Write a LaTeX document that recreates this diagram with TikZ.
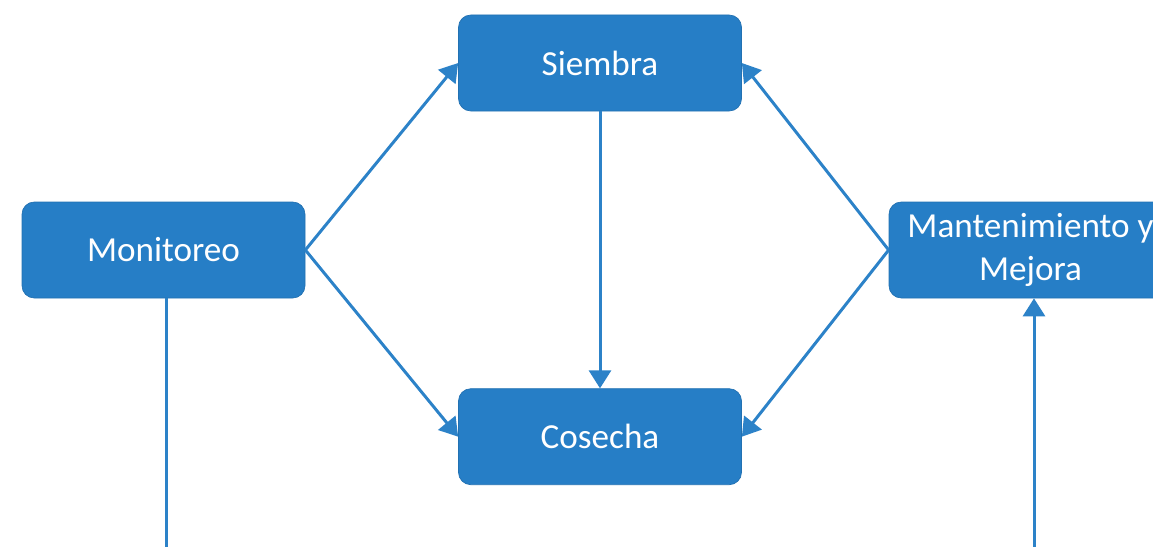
\documentclass[tikz,border=0pt]{standalone}
\usepackage{fontspec}
\setmainfont{Carlito}
\usetikzlibrary{arrows.meta, positioning}
\definecolor{boxcolor}{RGB}{38, 126, 198}
\definecolor{linecolor}{RGB}{44, 130, 200}
\tikzset{
  stage/.style={
    rectangle, rounded corners=7pt,
    minimum width=5.66cm, minimum height=1.92cm,
    text centered, align=center, text=white,
    font=\fontsize{20}{24.3}\selectfont,
    fill=boxcolor, draw=boxcolor!90!black, thin
  },
  arr/.style={
    -{Triangle[length=0.36cm, width=0.44cm]}, line width=1.7pt, color=linecolor
  },
  plain/.style={
    line width=1.7pt, color=linecolor
  }
}
\begin{document}
\begin{tikzpicture}

  % -- page frame -------------------------------------------
  \useasboundingbox (0,0) rectangle (23.06,-10.94);
  \clip (0,0) rectangle (23.06,-10.94);

  % -- stages -----------------------------------------------
  \node[stage] (siembra) at (12,-1.26) {Siembra};
  \node[stage, below=5.54cm of siembra] (cosecha) {Cosecha};
  \node[stage] (monitoreo) at (3.27,-5.0) {Monitoreo};
  \node[stage] (mantenimiento) at (20.61,-5.0) {Mantenimiento y\\Mejora};

  % -- bottom ends (below the frame) -------------------------
  \coordinate (low) at (0,-11.4);
  \coordinate (monout) at ([xshift=0.06cm]monitoreo.south);
  \coordinate (mantin) at ([xshift=0.07cm]mantenimiento.south);

  % -- arrows -----------------------------------------------
  \draw[arr] (monitoreo.east) -- (siembra.west);
  \draw[arr] (monitoreo.east) -- (cosecha.west);
  \draw[arr] (siembra) -- (cosecha);
  \draw[arr] (mantenimiento.west) -- (siembra.east);
  \draw[arr] (mantenimiento.west) -- (cosecha.east);

  % -- loop along the bottom ----------------------------------
  \draw[plain] (monout) -- (monout |- low);
  \draw[arr] (mantin |- low) -- (mantin);

\end{tikzpicture}
\end{document}
